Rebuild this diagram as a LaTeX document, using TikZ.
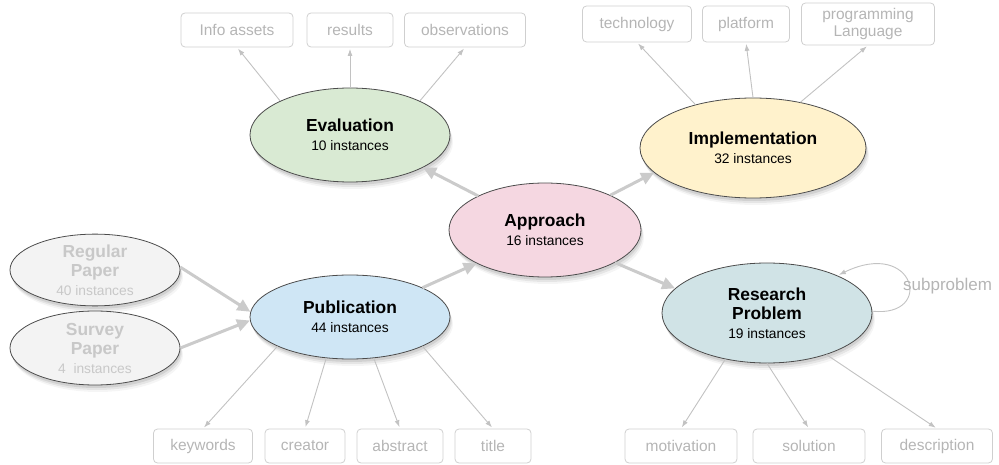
\documentclass[tikz,border=0pt]{standalone}
\usepackage{fontspec}
\setmainfont{Liberation Sans}
\usetikzlibrary{shapes.geometric,shadows,arrows.meta}
\definecolor{evalc}{HTML}{D9EAD3}
\definecolor{implc}{HTML}{FFF2CC}
\definecolor{apprc}{HTML}{F5D7E1}
\definecolor{resc}{HTML}{D0E3E6}
\definecolor{pubc}{HTML}{CFE6F5}
\definecolor{grayc}{HTML}{F3F3F3}
\definecolor{graytxt}{HTML}{C8C8C8}
\definecolor{boxc}{HTML}{CFCFCF}
\definecolor{boxt}{HTML}{B5B5B5}
\definecolor{thinc}{HTML}{C2C2C2}
\definecolor{arrc}{HTML}{CBCBCB}
\newcommand\instf{\fontsize{13.8}{19}\selectfont}
\newcommand\boxf{\fontsize{15.5}{17}\selectfont}
\newcommand\mkttl[1]{{\fontsize{17.4}{19}\selectfont\bfseries #1}}
\tikzset{
  ell/.style={ellipse, draw=black!70, line width=0.8pt, inner sep=0pt, align=center, font=\instf,
    drop shadow={shadow xshift=3pt, shadow yshift=-7pt, opacity=0.08},
    drop shadow={shadow xshift=2pt, shadow yshift=-5pt, opacity=0.14},
    drop shadow={shadow xshift=1pt, shadow yshift=-3pt, opacity=0.2}},
  box/.style={draw=boxc, rounded corners=4pt, line width=0.8pt, text=boxt, font=\boxf,
    inner sep=0pt, minimum height=34pt, align=center},
  thickarrow/.style={draw=arrc, line width=3pt, -{Triangle[length=13pt,width=12pt]}},
  thinarrow/.style={draw=thinc, line width=0.9pt, -{Latex[length=7pt,width=5pt]}, shorten >=1.5pt},
}
\begin{document}
\begin{tikzpicture}[x=1pt,y=-1pt]
\useasboundingbox (0,0) rectangle (999,465);
% ellipses
\node[ell, fill=evalc, minimum width=200pt, minimum height=94pt] (ev) at (350,135) {\mkttl{Evaluation}\\10 instances};
\node[ell, fill=implc, minimum width=226pt, minimum height=100pt] (im) at (753,148) {\mkttl{Implementation}\\32 instances};
\node[ell, fill=apprc, minimum width=192pt, minimum height=94pt] (ap) at (545,230) {\mkttl{Approach}\\16 instances};
\node[ell, fill=resc, minimum width=210pt, minimum height=100pt] (rp) at (767,313) {\mkttl{Research}\\\mkttl{Problem}\\19 instances};
\node[ell, fill=pubc, minimum width=200pt, minimum height=84pt] (pub) at (350,317) {\mkttl{Publication}\\44 instances};
\node[ell, fill=grayc, text=graytxt, minimum width=170pt, minimum height=60pt] (rg) at (95,270) {\mkttl{Regular}\\\mkttl{Paper}\\40 instances};
\node[ell, fill=grayc, text=graytxt, minimum width=170pt, minimum height=74pt] (sv) at (95,348) {\mkttl{Survey}\\\mkttl{Paper}\\4~~instances};
% boxes
\node[box, minimum width=112pt] (ia) at (237,30) {Info assets};
\node[box, minimum width=86pt] (rs) at (350,30) {results};
\node[box, minimum width=121pt] (ob) at (465,30) {observations};
\node[box, minimum width=109pt, minimum height=36pt] (te) at (637,24) {technology};
\node[box, minimum width=87pt, minimum height=36pt] (pl) at (746,24) {platform};
\node[box, minimum width=133pt, minimum height=42pt] (pg) at (868,24) {programming\\Language};
\node[box, minimum width=99pt] (kw) at (203,446) {keywords};
\node[box, minimum width=80pt] (cr) at (305,446) {creator};
\node[box, minimum width=86pt] (ab) at (400,446) {abstract};
\node[box, minimum width=76pt] (ti) at (493,446) {title};
\node[box, minimum width=112pt] (mo) at (681,446) {motivation};
\node[box, minimum width=112pt] (so) at (809,446) {solution};
\node[box, minimum width=111pt] (de) at (937,446) {description};
% thick connectors
\draw[thickarrow] (ap.153) -- (ev.336);
\draw[thickarrow] (ap.28) -- (im.194);
\draw[thickarrow] (ap.-25) -- (rp.165);
\draw[thickarrow] (pub.22) -- (ap.206);
\draw[thickarrow] (rg.2) -- (pub.177);
\draw[thickarrow] (sv.0) -- (pub.182);
% thin connectors
\draw[thinarrow] (ev.154) -- (ia.south);
\draw[thinarrow] (ev.90) -- (rs.south);
\draw[thinarrow] (ev.26) -- (ob.south);
\draw[thinarrow] (im.143) -- (te.south);
\draw[thinarrow] (im.90) -- (pl.south);
\draw[thinarrow] (im.44) -- (pg.south);
\draw[thinarrow] (rp.228) -- (mo.north);
\draw[thinarrow] (rp.270) -- (so.north);
\draw[thinarrow] (rp.325) -- (de.north);
\draw[thinarrow] (pub.202) -- (kw.north);
\draw[thinarrow] (pub.240) -- (cr.north);
\draw[thinarrow] (pub.300) -- (ab.north);
\draw[thinarrow] (pub.338) -- (ti.north);
% self loop
\draw[thinarrow] (rp.1) .. controls (935,318) and (915,238) .. (rp.28);
\node[anchor=west, inner sep=0pt, text=boxt, font=\fontsize{17}{19}\selectfont] (sp) at (903,286) {subproblem};
\end{tikzpicture}
\end{document}
